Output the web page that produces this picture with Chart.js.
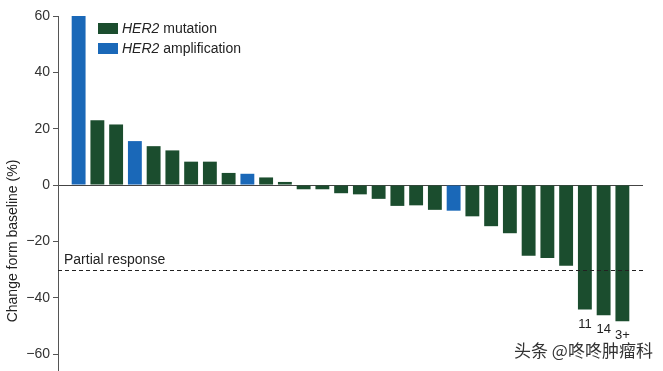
<!DOCTYPE html>
<html>
<head>
<meta charset="utf-8">
<script src="https://cdn.jsdelivr.net/npm/chart.js@4.4.0/dist/chart.umd.min.js"></script>
<style>
  html, body { margin: 0; padding: 0; background: #fff; overflow: hidden; }
  #wrap { position: relative; width: 663px; height: 371px; }
  #mark {
    position: absolute; left: 514px; top: 337px;
    font: 17px "Noto Sans CJK SC", sans-serif; color: #333;
    text-shadow: 0 0 2px #fff, 0 0 2px #fff;
    white-space: nowrap;
  }
</style>
</head>
<body>
<div id="wrap">
  <canvas id="waterfall" width="663" height="371"></canvas>
  <div id="mark">头条 @咚咚肿瘤科</div>
</div>
<script>
  // patient order along the x axis
  const patients = [1, 2, 3, 4, 5, 6, 7, 8, 9, 10, 11, 12, 13, 14, 15,
                    16, 17, 18, 19, 20, 21, 22, 23, 24, 25, 26, 27, 28, 29, 30];
  // best change from baseline (%)
  const change = [60, 23, 21.5, 15.6, 13.8, 12.3, 8.3, 8.3, 4.3, 4.0, 2.7, 1.1, -1.5, -1.5, -2.9,
                  -3.3, -4.9, -7.4, -7.2, -8.8, -9.1, -11.1, -14.6, -17.1, -25.1, -25.9, -28.6, -44.2, -46.2, -48.3];
  // m = HER2 mutation, a = HER2 amplification
  const alteration = ["a", "m", "m", "a", "m", "m", "m", "m", "m", "a", "m", "m", "m", "m", "m",
                      "m", "m", "m", "m", "m", "a", "m", "m", "m", "m", "m", "m", "m", "m", "m"];
  // labels under the bars (months on treatment)
  const barNotes = ["", "", "", "", "", "", "", "", "", "", "", "", "", "", "",
                    "", "", "", "", "", "", "", "", "", "", "", "", "11", "14", "3+"];
  const yTicks = [60, 40, 20, 0, -20, -40, -60];
  const partialResponse = -30;

  const GREEN = "#1b4d2e";
  const BLUE = "#1a68b8";
  const FONT = '"Liberation Sans", Arial, sans-serif';

  const legendItems = [
    { color: GREEN, gene: "HER2", text: " mutation" },
    { color: BLUE, gene: "HER2", text: " amplification" }
  ];

  const extras = {
    id: "extras",
    afterDatasetsDraw(chart) {
      const { ctx, chartArea } = chart;
      const y = chart.scales.y;
      ctx.save();

      // partial response threshold
      const py = Math.round(y.getPixelForValue(partialResponse)) + 0.5;
      ctx.strokeStyle = "#222";
      ctx.lineWidth = 1.2;
      ctx.setLineDash([4, 3]);
      ctx.beginPath();
      ctx.moveTo(chartArea.left, py);
      ctx.lineTo(chartArea.right, py);
      ctx.stroke();
      ctx.setLineDash([]);
      ctx.fillStyle = "#222";
      ctx.font = "14px " + FONT;
      ctx.textBaseline = "alphabetic";
      ctx.fillText("Partial response", 64, py - 7);

      // notes under bars
      const meta = chart.getDatasetMeta(0);
      ctx.font = "13px " + FONT;
      ctx.textAlign = "center";
      ctx.textBaseline = "top";
      meta.data.forEach((bar, i) => {
        if (barNotes[i]) ctx.fillText(barNotes[i], bar.x, bar.y + 8);
      });

      // legend
      ctx.textAlign = "left";
      ctx.textBaseline = "middle";
      legendItems.forEach((it, i) => {
        const top = 23 + i * 20;
        ctx.fillStyle = it.color;
        ctx.fillRect(98, top, 20, 11);
        ctx.fillStyle = "#222";
        ctx.font = "italic 14px " + FONT;
        ctx.fillText(it.gene, 122, top + 6);
        const w = ctx.measureText(it.gene).width;
        ctx.font = "14px " + FONT;
        ctx.fillText(it.text, 122 + w, top + 6);
      });

      // y axis title
      ctx.translate(13, 241);
      ctx.rotate(-Math.PI / 2);
      ctx.textAlign = "center";
      ctx.font = "14px " + FONT;
      ctx.fillText("Change form baseline (%)", 0, 0);
      ctx.restore();
    }
  };

  new Chart(document.getElementById("waterfall"), {
    type: "bar",
    data: {
      datasets: [{
        data: patients.map((p, i) => ({ x: p, y: change[i] })),
        backgroundColor: alteration.map(a => a === "a" ? BLUE : GREEN),
        barPercentage: 0.74,
        categoryPercentage: 1
      }]
    },
    options: {
      responsive: false,
      animation: false,
      layout: { padding: { top: 16, right: 20, bottom: 0, left: 0 } },
      plugins: { legend: { display: false }, tooltip: { enabled: false } },
      scales: {
        x: { type: "linear", offset: false, min: -0.1, max: 31.1, display: false },
        y: {
          min: -66,
          max: 60,
          afterBuildTicks: s => { s.ticks = yTicks.map(v => ({ value: v })); },
          afterFit: s => { s.width = 58; s.paddingTop = 0; s.paddingBottom = 0; },
          border: { display: true, color: "#555", width: 1 },
          grid: {
            drawOnChartArea: true,
            color: c => (c.tick && c.tick.value === 0) ? "#444" : "rgba(0,0,0,0)",
            tickColor: "#555",
            tickLength: 5
          },
          ticks: {
            padding: 3,
            color: "#333",
            font: { family: FONT, size: 14 },
            callback: v => v < 0 ? "\u2212" + Math.abs(v) : String(v)
          }
        }
      }
    },
    plugins: [extras]
  });
</script>
</body>
</html>
